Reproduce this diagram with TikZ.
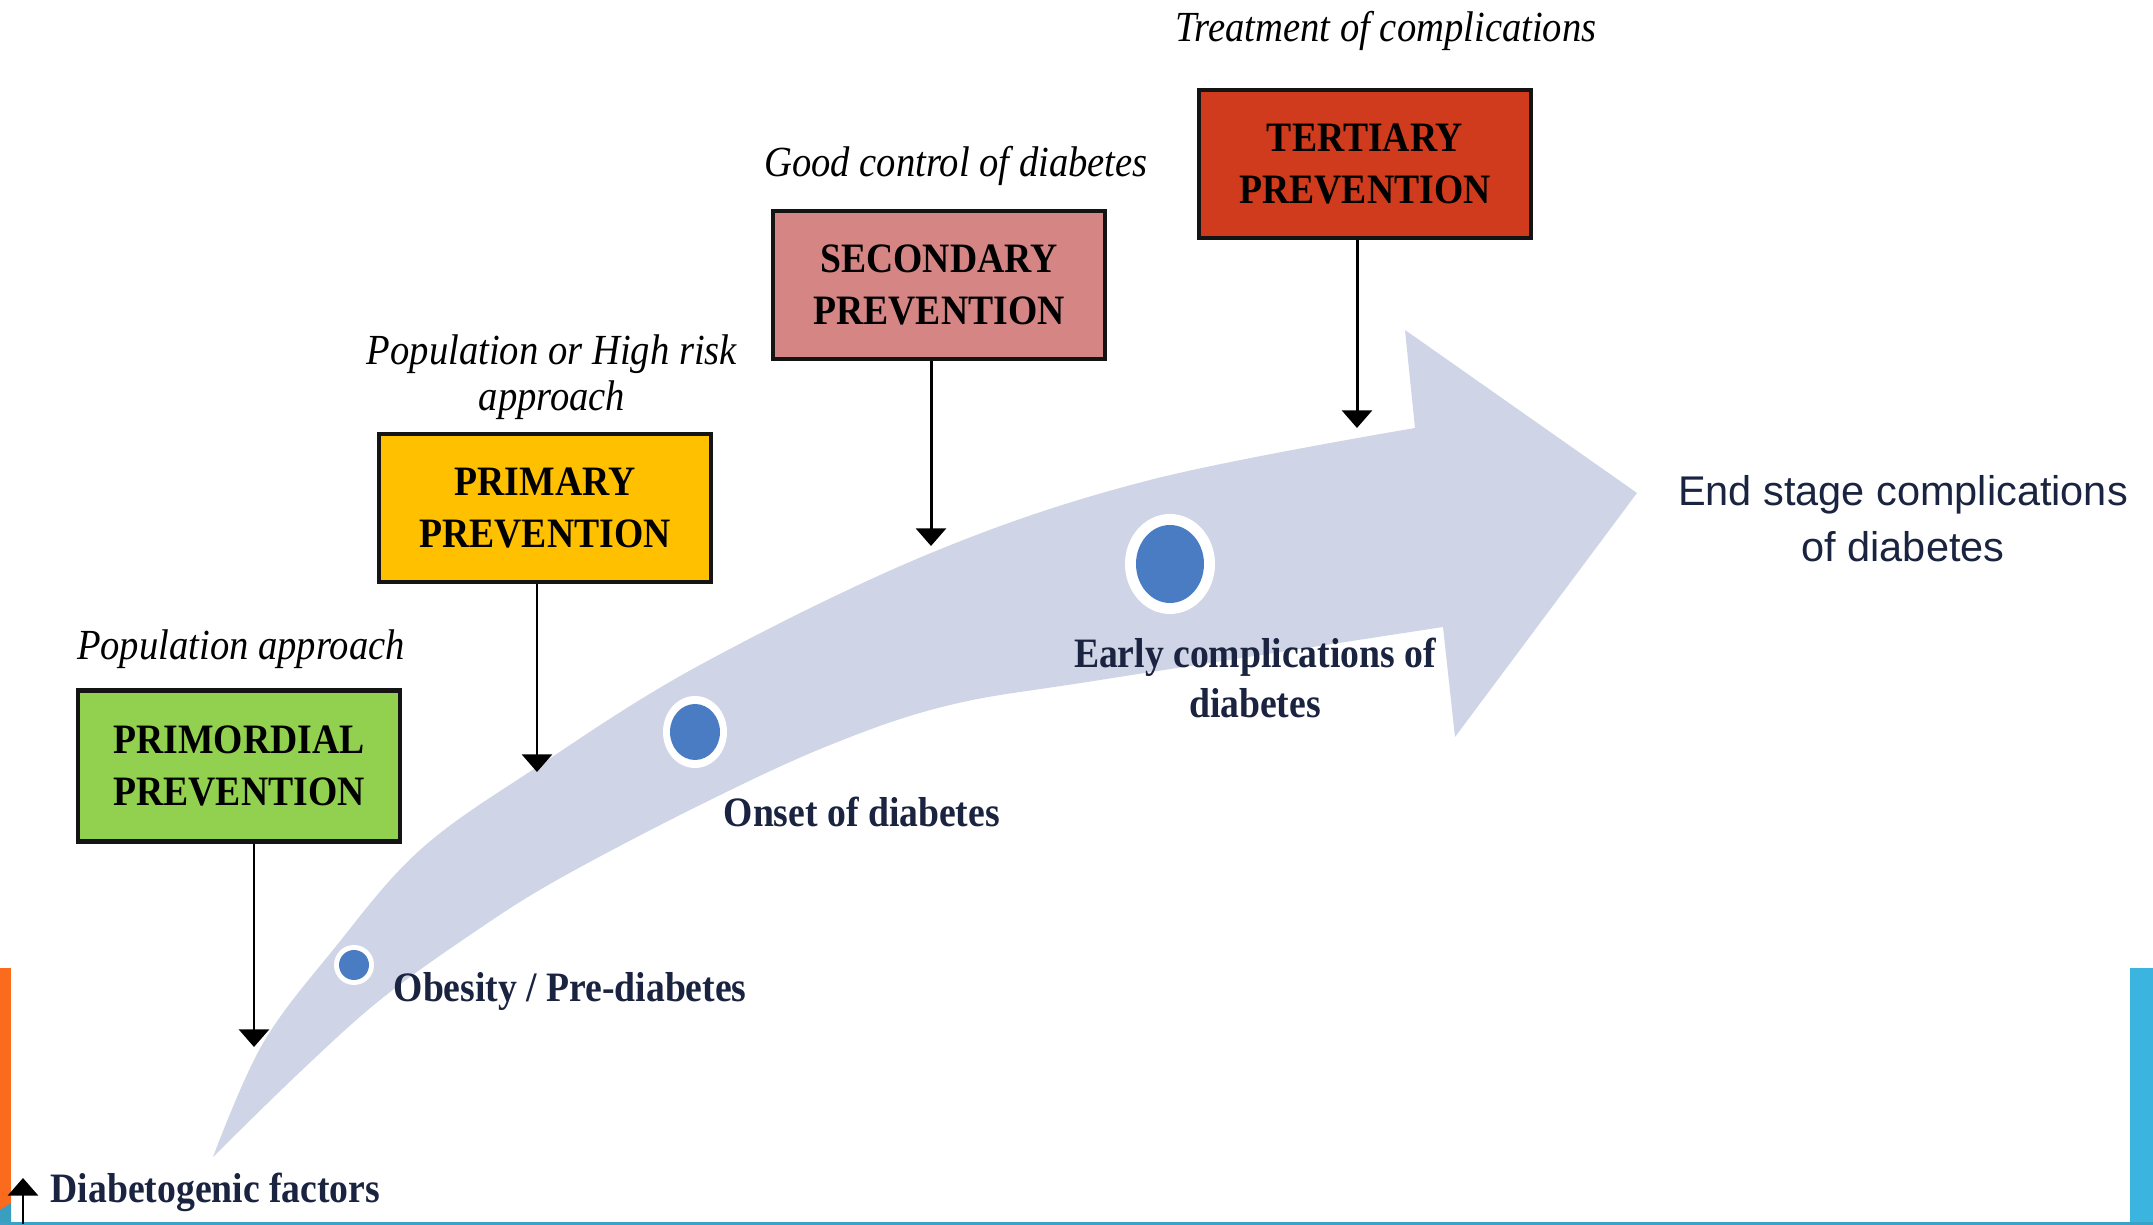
\documentclass[tikz,border=0pt]{standalone}
\usepackage{fontspec}
\newfontfamily\serifc{Liberation Serif}[FakeStretch=0.9]
\newfontfamily\sanslab{Liberation Sans}
\usetikzlibrary{arrows.meta}
\definecolor{bandc}{HTML}{CFD5E6}
\definecolor{dotc}{HTML}{4A7CC4}
\definecolor{greenc}{HTML}{92D050}
\definecolor{yellowc}{HTML}{FFC000}
\definecolor{pinkc}{HTML}{D68585}
\definecolor{redc}{HTML}{CF3B1C}
\definecolor{navyc}{HTML}{1A2340}
\definecolor{orangec}{HTML}{FA6B1E}
\definecolor{bluebar}{HTML}{3BB4E0}
\definecolor{tealc}{HTML}{3A9EC0}
\tikzset{
  pbox/.style={draw=black!92, line width=1.2pt, align=center, inner sep=0pt,
    minimum width=3.32cm, minimum height=1.48cm, text=black,
    font=\serifc\bfseries\fontsize{11.9pt}{14.8pt}\selectfont},
  ilabel/.style={inner sep=0pt, align=center, text=black,
    font=\serifc\itshape\fontsize{12.2pt}{13.1pt}\selectfont},
  slabel/.style={inner sep=0pt, align=center, text=navyc,
    font=\serifc\bfseries\fontsize{11.9pt}{14.2pt}\selectfont},
  arr/.style={line width=0.85pt, black, -{Triangle[width=8.5pt,length=5pt]}}
}
\begin{document}
\begin{tikzpicture}[x=0.01cm,y=-0.01cm]
\useasboundingbox (0,0) rectangle (2153,1225);
\fill[white] (0,0) rectangle (2153,1225);

% side bars and bottom line
\fill[orangec] (0,968) rectangle (11,1225);
\fill[tealc] (0,1210) -- (11,1203) -- (11,1225) -- (0,1225) -- cycle;
\fill[bluebar] (2130,968) rectangle (2153,1225);
\fill[tealc!80!bluebar] (0,1222) rectangle (2153,1225);

% big curved arrow
\fill[bandc] plot[smooth, tension=0.6] coordinates {(213,1157) (262,1045) (333,950) (420,850) (537,767) (700,665) (931,553) (1150,480) (1415,428)}
  -- (1405,330) -- (1637,493) -- (1455,737) -- (1443,627)
  -- plot[smooth, tension=0.6] coordinates {(1443,627) (1100,680) (950,705) (830,745) (700,805) (557,880) (470,935) (380,1000) (300,1072) (213,1157)} -- cycle;

% dots
\fill[white] (354,965) circle [radius=20];
\fill[dotc] (354,965) circle [radius=15];
\fill[white] (695,732) ellipse [x radius=32, y radius=36];
\fill[dotc] (695,732) ellipse [x radius=25, y radius=28];
\fill[white] (1170,564) ellipse [x radius=45, y radius=50];
\fill[dotc] (1170,564) ellipse [x radius=34, y radius=39];

% boxes
\node[pbox, fill=greenc, minimum width=3.22cm, minimum height=1.51cm] (primordial) at (239,766) {PRIMORDIAL\\PREVENTION};
\node[pbox, fill=yellowc] (primary) at (545,508) {PRIMARY\\PREVENTION};
\node[pbox, fill=pinkc] (secondary) at (939,285) {SECONDARY\\PREVENTION};
\node[pbox, fill=redc] (tertiary) at (1365,164) {TERTIARY\\PREVENTION};

% arrow ends on the band
\coordinate (e1) at (254,1047);
\coordinate (e2) at (537,772);
\coordinate (e3) at (931,546);
\coordinate (e4) at (1357,428);
\draw[arr] (primordial.south -| e1) -- (e1);
\draw[arr] (primary.south -| e2) -- (e2);
\draw[arr] (secondary.south -| e3) -- (e3);
\draw[arr] (tertiary.south -| e4) -- (e4);

% italic approach labels
\node[ilabel, anchor=base] (lab1) at (241,660) {Population approach};
\node[ilabel] (lab2) at (552,377) {Population or High risk\\approach};
\node[ilabel, anchor=base] (lab3) at (956,177) {Good control of diabetes};
\node[ilabel, anchor=base] (lab4) at (1386,42) {Treatment of complications};

% stage labels
\node[slabel, anchor=base west] (obes) at (393,1002) {Obesity / Pre-diabetes};
\node[slabel, anchor=base west] (onset) at (723,827) {Onset of diabetes};
\node[slabel] (early) at (1255,678) {Early complications of\\diabetes};
\node[inner sep=0pt, align=center, text=navyc, font=\sanslab\fontsize{11.8pt}{15.9pt}\selectfont] (endst) at (1903,519) {End stage complications\\of diabetes};
\node[slabel, anchor=base west] (diab) at (50,1203) {Diabetogenic factors};
\coordinate (dfoot) at (23,1224);
\coordinate (dtip) at (23,1178);
\draw[arr] (dfoot) -- (dtip);
\end{tikzpicture}
\end{document}
